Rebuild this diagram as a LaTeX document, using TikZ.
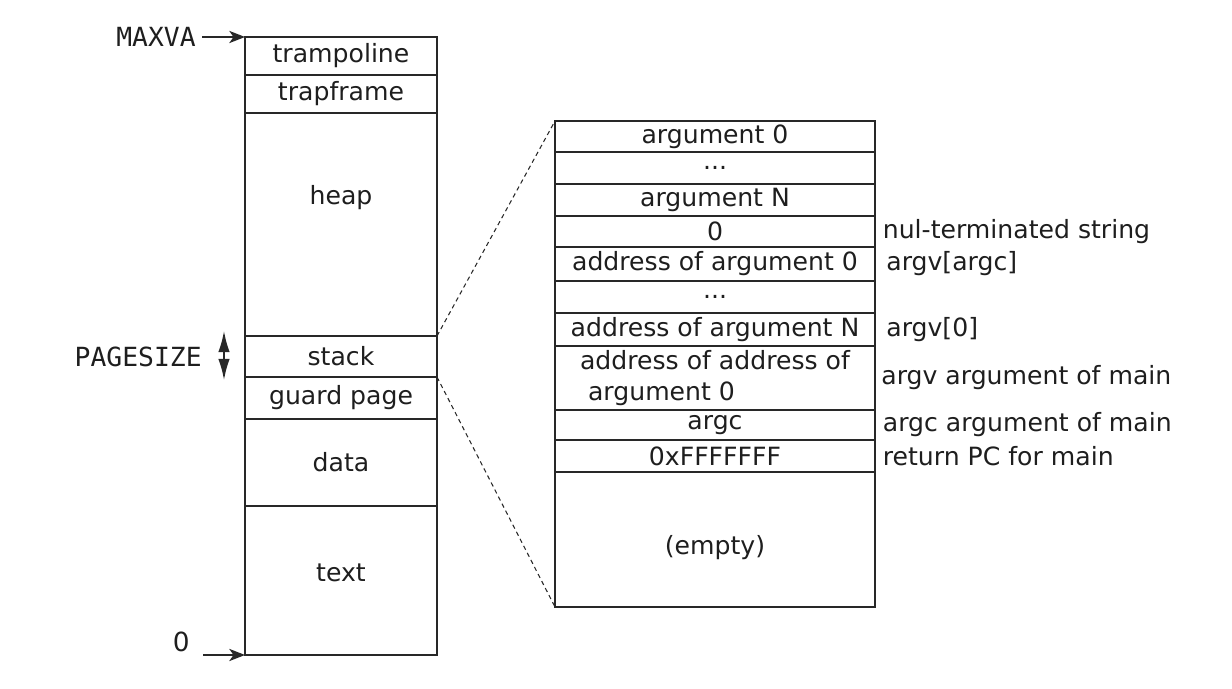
\documentclass[tikz,border=0pt]{standalone}
\usepackage{fontspec}
\setmainfont{DejaVu Sans}
\setmonofont{DejaVu Sans Mono}
\usetikzlibrary{arrows.meta,positioning}
\definecolor{lineg}{RGB}{40,40,40}
\definecolor{textg}{RGB}{30,30,30}

\begin{document}
\begin{tikzpicture}[
    celltext/.style={inner sep=0pt, text=textg, align=center, font=\fontsize{14.3}{16.5}\selectfont},
    cell/.style={celltext, rectangle, draw=lineg, line width=0.8pt, outer sep=0pt},
    vmcell/.style={cell, minimum width=3.84cm},
    stkcell/.style={cell, minimum width=6.4cm},
    note/.style={celltext, align=left},
    addr/.style={inner sep=0.12cm, text=textg, font=\ttfamily\fontsize{15}{17}\selectfont},
    ptr/.style={-{Stealth[length=9pt,width=7pt,inset=2.5pt]}, line width=0.8pt, draw=lineg},
    zoomline/.style={draw=lineg, line width=0.6pt, dash pattern=on 2.5pt off 2pt}
  ]
    \useasboundingbox (0,0) rectangle (24.64,-13.78);

    % user address space
    \node[vmcell, minimum height=0.76cm] (tramp) at (6.82,-1.12) {trampoline};
    \node[vmcell, minimum height=0.76cm, below=0pt of tramp] (trapf) {trapframe};
    \node[vmcell, minimum height=4.46cm, below=0pt of trapf,
      label={[celltext, yshift=0.53cm]center:heap}] (heap) {};
    \node[vmcell, minimum height=0.82cm, below=0pt of heap] (stack) {stack};
    \node[vmcell, minimum height=0.84cm, below=0pt of stack] (guard) {guard page};
    \node[vmcell, minimum height=1.74cm, below=0pt of guard] (data) {data};
    \node[vmcell, minimum height=2.98cm, below=0pt of data,
      label={[celltext, yshift=0.15cm]center:text}] (textseg) {};

    % addresses on the left
    \node[addr, left=0.86cm of tramp.north west] (maxva) {MAXVA};
    \draw[ptr] (maxva) -- (tramp.north west);
    \node[inner xsep=0.26cm, inner ysep=0pt, text=textg, font=\fontsize{15}{17}\selectfont,
      anchor=south east] (zeroaddr) at ([xshift=-0.84cm, yshift=0.06cm]textseg.south west) {0};
    \draw[ptr] ([yshift=-0.06cm]zeroaddr.south east) -- (textseg.south west);
    \coordinate (pgtop) at ([xshift=-0.42cm, yshift=0.1cm]stack.north west);
    \coordinate (pgbot) at ([xshift=-0.42cm, yshift=-0.06cm]stack.south west);
    \coordinate (pgmid) at ([xshift=-0.42cm]stack.west);
    \draw[line width=0.9pt, draw=lineg,
      {Latex[length=12pt,width=6.5pt]}-{Latex[length=12pt,width=6.5pt]}] (pgtop) -- (pgbot);
    \node[addr, left=0.32cm of pgmid] (pgsize) {PAGESIZE};

    % user stack in detail
    \node[stkcell, minimum height=0.62cm] (arg0) at (14.3,-2.73) {argument 0};
    \node[stkcell, minimum height=0.64cm, below=0pt of arg0] (dotsa) {...};
    \node[stkcell, minimum height=0.64cm, below=0pt of dotsa] (argn) {argument N};
    \node[stkcell, minimum height=0.62cm, below=0pt of argn] (nul) {0};
    \node[stkcell, minimum height=0.68cm, below=0pt of nul] (adra) {address of argument 0};
    \node[stkcell, minimum height=0.64cm, below=0pt of adra] (dotsb) {...};
    \node[stkcell, minimum height=0.66cm, below=0pt of dotsb] (adrn) {address of argument N};
    \node[stkcell, minimum height=1.28cm, below=0pt of adrn, align=left,
      font=\fontsize{14.3}{18}\selectfont] (adradr)
      {address of address of\\\ argument 0};
    \node[stkcell, minimum height=0.60cm, below=0pt of adradr] (argc) {argc};
    \node[stkcell, minimum height=0.64cm, below=0pt of argc] (retpc) {0xFFFFFFF};
    \node[stkcell, minimum height=2.70cm, below=0pt of retpc,
      label={[celltext, yshift=-0.17cm]center:(empty)}] (empty) {};

    % notes on the right
    \node[note, right=1.5mm of nul] (nulnote) {nul-terminated string};
    \node[note, right=2.2mm of adra] (argvend) {argv[argc]};
    \node[note, right=2.2mm of adrn] (argvzero) {argv[0]};
    \node[note, right=1.2mm of adradr] (argvnote) {argv argument of main};
    \node[note, right=1.5mm of argc] (argcnote) {argc argument of main};
    \node[note, right=1.5mm of retpc] (pcnote) {return PC for main};

    % zoom lines
    \draw[zoomline] (stack.north east) -- (arg0.north west);
    \draw[zoomline] (guard.north east) -- (empty.south west);
\end{tikzpicture}
\end{document}
